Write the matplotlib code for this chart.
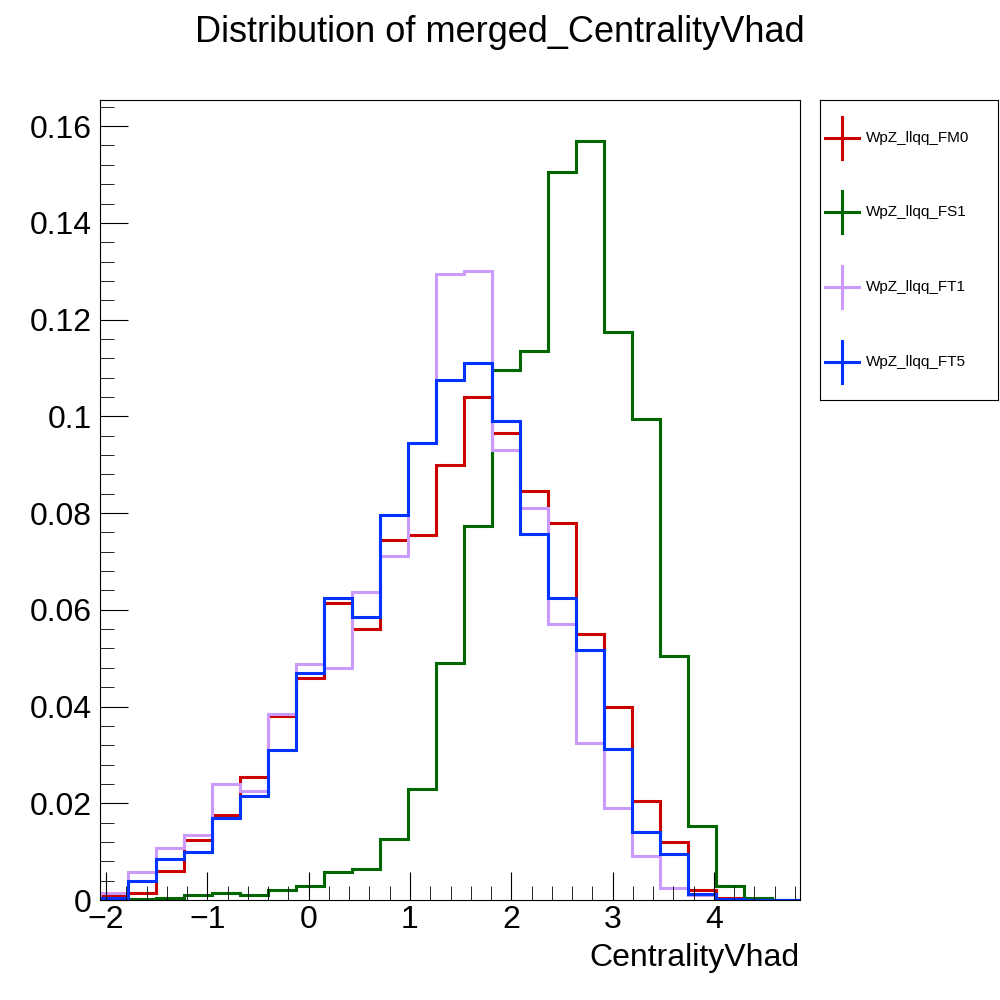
import matplotlib.pyplot as plt
import numpy as np
from matplotlib.ticker import MultipleLocator

x_lo, x_hi = -2.06, 4.85
n_bins = 25
edges = np.linspace(x_lo, x_hi, n_bins + 1)

fm0 = [0.001, 0.0015, 0.006, 0.0125, 0.0175, 0.0255, 0.038, 0.046, 0.0615, 0.056,
       0.0745, 0.0755, 0.090, 0.104, 0.0965, 0.0845, 0.078, 0.055, 0.040, 0.0205,
       0.012, 0.002, 0.0005, 0.0, 0.0]
fs1 = [0.0003, 0.0003, 0.0005, 0.001, 0.0015, 0.001, 0.002, 0.0028, 0.0057, 0.0065,
       0.0127, 0.023, 0.049, 0.0773, 0.1095, 0.1135, 0.1505, 0.157, 0.1175, 0.0995,
       0.0505, 0.0153, 0.0028, 0.0005, 0.0]
ft1 = [0.0015, 0.0058, 0.0107, 0.0135, 0.024, 0.0225, 0.0385, 0.0487, 0.048, 0.0637,
       0.0712, 0.0945, 0.1295, 0.130, 0.093, 0.081, 0.057, 0.0325, 0.019, 0.009,
       0.0025, 0.001, 0.0003, 0.0, 0.0]
ft5 = [0.0005, 0.004, 0.0085, 0.010, 0.017, 0.0215, 0.031, 0.047, 0.0625, 0.0585,
       0.0795, 0.0945, 0.1075, 0.111, 0.099, 0.0757, 0.0625, 0.0517, 0.0312, 0.014,
       0.0095, 0.0012, 0.0003, 0.0, 0.0]

series = [("WpZ_llqq_FM0", fm0, "#cc0000"),
          ("WpZ_llqq_FS1", fs1, "#006600"),
          ("WpZ_llqq_FT1", ft1, "#cc99ff"),
          ("WpZ_llqq_FT5", ft5, "#0033ff")]

plt.rcParams['font.family'] = ['Liberation Sans', 'DejaVu Sans']
fig = plt.figure(figsize=(10, 10), dpi=100)
ax = fig.add_axes([0.10, 0.10, 0.70, 0.80])

for name, vals, col in series:
    ax.stairs(vals, edges, color=col, lw=2.2)

ax.set_xlim(x_lo, x_hi)
ax.set_ylim(0, 0.1654)
ax.xaxis.set_major_locator(MultipleLocator(1))
ax.xaxis.set_minor_locator(MultipleLocator(0.2))
ax.yaxis.set_minor_locator(MultipleLocator(0.004))
ax.tick_params(which='both', direction='in', top=False, right=False, labelsize=23)
ax.tick_params(which='major', length=20)
ax.tick_params(which='minor', length=10)
ax.tick_params(axis='y', pad=6)
ax.set_yticks([0, 0.02, 0.04, 0.06, 0.08, 0.1, 0.12, 0.14, 0.16])
ax.set_yticklabels(["0", "0.02", "0.04", "0.06", "0.08", "0.1", "0.12", "0.14", "0.16"])
ax.set_xlabel("CentralityVhad", fontsize=23, loc='right', labelpad=6)
fig.text(0.5, 0.967, "Distribution of merged_CentralityVhad", fontsize=26,
         ha='center', va='center')

lax = fig.add_axes([0.82, 0.60, 0.178, 0.30])
lax.set_xlim(0, 1)
lax.set_ylim(0, 1)
lax.set_xticks([])
lax.set_yticks([])
ys = [0.873, 0.627, 0.377, 0.127]
for (name, vals, col), y in zip(series, ys):
    lax.plot([0.03, 0.22], [y, y], color=col, lw=2.2)
    lax.plot([0.125, 0.125], [y - 0.07, y + 0.07], color=col, lw=2.2)
    lax.text(0.26, y, name, fontsize=11, va='center')

fig.savefig("out.png")
